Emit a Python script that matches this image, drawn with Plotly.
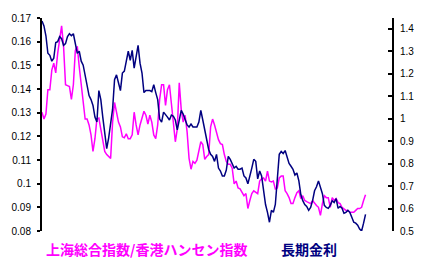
import plotly.graph_objects as go

# 上海総合指数/香港ハンセン指数 (left axis), weekly
ratio = [0.1302, 0.1273, 0.1294, 0.1397, 0.1397, 0.1480, 0.1509, 0.1468, 0.1551, 0.1600,
         0.1667, 0.1580, 0.1418, 0.1414, 0.1410, 0.1356, 0.1418, 0.1563, 0.1580, 0.1493,
         0.1418, 0.1352, 0.1273, 0.1273, 0.1248, 0.1206, 0.1136, 0.1190, 0.1273, 0.1277,
         0.1227, 0.1190, 0.1136, 0.1123, 0.1115, 0.1107, 0.1260, 0.1343, 0.1302, 0.1260,
         0.1240, 0.1198, 0.1194, 0.1211, 0.1190, 0.1190, 0.1206, 0.1302, 0.1248, 0.1206,
         0.1248, 0.1273, 0.1306, 0.1289, 0.1252, 0.1289, 0.1260, 0.1206, 0.1190, 0.1248,
         0.1356, 0.1418, 0.1418, 0.1331, 0.1397, 0.1418, 0.1343, 0.1260, 0.1177, 0.1231,
         0.1426, 0.1314, 0.1260, 0.1289, 0.1219, 0.1107, 0.1061, 0.1094, 0.1086, 0.1099,
         0.1136, 0.1177, 0.1165, 0.1103, 0.1115, 0.1123, 0.1240, 0.1273, 0.1248, 0.1219,
         0.1186, 0.1169, 0.1165, 0.1123, 0.1094, 0.1082, 0.1082, 0.1065, 0.0999, 0.1011,
         0.0982, 0.0978, 0.0962, 0.0949, 0.0958, 0.0895, 0.0929, 0.0958, 0.0970, 0.0962,
         0.0958, 0.1011, 0.1020, 0.1024, 0.1011, 0.1053, 0.1011, 0.1007, 0.1011, 0.0978,
         0.0982, 0.1024, 0.1032, 0.1032, 0.0970, 0.0958, 0.0941, 0.0916, 0.0916, 0.0941,
         0.0962, 0.0970, 0.0937, 0.0949, 0.0929, 0.0924, 0.0920, 0.0916, 0.0929, 0.0916,
         0.0908, 0.0900, 0.0866, 0.0916, 0.0949, 0.0941, 0.0941, 0.0900, 0.0941, 0.0929,
         0.0937, 0.0920, 0.0916, 0.0900, 0.0895, 0.0887, 0.0887, 0.0879, 0.0879, 0.0879,
         0.0887, 0.0895, 0.0895, 0.0900, 0.0929, 0.0953]

# 長期金利 (right axis), weekly
rate = [1.435, 1.413, 1.369, 1.291, 1.282, 1.256, 1.269, 1.339, 1.343, 1.365,
        1.356, 1.326, 1.334, 1.365, 1.378, 1.369, 1.378, 1.334, 1.291, 1.300,
        1.256, 1.238, 1.195, 1.147, 1.103, 1.085, 1.059, 1.007, 0.985, 1.125,
        1.085, 1.007, 0.933, 0.867, 0.915, 0.972, 1.042, 1.173, 1.195, 1.160,
        1.125, 1.203, 1.212, 1.256, 1.300, 1.260, 1.304, 1.225, 1.278, 1.326,
        1.247, 1.203, 1.116, 1.125, 1.125, 1.125, 1.120, 1.151, 1.116, 1.085,
        0.998, 0.985, 1.029, 1.020, 1.007, 0.994, 1.016, 1.011, 0.994, 0.950,
        0.998, 1.037, 1.020, 0.994, 0.972, 0.963, 0.976, 0.963, 0.963, 0.963,
        0.985, 1.037, 0.994, 0.950, 0.906, 0.863, 0.841, 0.832, 0.810, 0.841,
        0.780, 0.767, 0.745, 0.745, 0.771, 0.832, 0.819, 0.801, 0.780, 0.788,
        0.775, 0.775, 0.780, 0.745, 0.736, 0.710, 0.753, 0.780, 0.819, 0.810,
        0.732, 0.767, 0.745, 0.679, 0.618, 0.583, 0.539, 0.592, 0.583, 0.618,
        0.736, 0.841, 0.854, 0.845, 0.858, 0.828, 0.801, 0.788, 0.775, 0.749,
        0.758, 0.723, 0.662, 0.635, 0.618, 0.609, 0.592, 0.605, 0.635, 0.679,
        0.697, 0.723, 0.692, 0.666, 0.614, 0.605, 0.601, 0.614, 0.635, 0.627,
        0.644, 0.601, 0.609, 0.601, 0.579, 0.583, 0.592, 0.583, 0.561, 0.539,
        0.535, 0.526, 0.509, 0.500, 0.535, 0.574]

weeks = list(range(len(ratio)))
left_ticks = [0.08, 0.09, 0.1, 0.11, 0.12, 0.13, 0.14, 0.15, 0.16, 0.17]
left_labels = ["0.08", "0.09", "0.1", "0.11", "0.12", "0.13", "0.14", "0.15", "0.16", "0.17"]
right_ticks = [0.5, 0.6, 0.7, 0.8, 0.9, 1.0, 1.1, 1.2, 1.3, 1.4]
right_labels = ["0.5", "0.6", "0.7", "0.8", "0.9", "1", "1.1", "1.2", "1.3", "1.4"]
names = ["上海総合指数/香港ハンセン指数", "長期金利"]
colors = ["#FF00FF", "#000080"]

fig = go.Figure()
fig.add_trace(go.Scatter(x=weeks, y=ratio, mode="lines", name=names[0],
                         line=dict(color=colors[0], width=1.5), yaxis="y"))
fig.add_trace(go.Scatter(x=weeks, y=rate, mode="lines", name=names[1],
                         line=dict(color=colors[1], width=1.5), yaxis="y2"))

tick_font = dict(family="Liberation Sans, Arial, sans-serif", size=10, color="black")
fig.update_layout(
    width=432, height=269,
    margin=dict(l=35, r=40, t=14, b=38),
    paper_bgcolor="white", plot_bgcolor="white",
    showlegend=False,
    xaxis=dict(range=[0, 178.5], visible=False, showgrid=False, zeroline=False),
    yaxis=dict(range=[0.08, 0.17], tickvals=left_ticks, ticktext=left_labels,
               showgrid=False, zeroline=False, showline=True, linecolor="black",
               linewidth=2, ticks="outside", ticklen=3, tickwidth=1.5, tickcolor="black",
               tickfont=tick_font, ticklabelstandoff=4),
    yaxis2=dict(range=[0.5, 1.448], overlaying="y", side="right",
                tickvals=right_ticks, ticktext=right_labels,
                showgrid=False, zeroline=False, showline=True, linecolor="black",
                linewidth=2, ticks="inside", ticklen=4, tickwidth=1.5, tickcolor="black",
                tickfont=tick_font, ticklabelstandoff=4),
)

legend_font = "Noto Sans CJK JP, sans-serif"
fig.add_annotation(text="<b>" + names[0] + "</b>", xref="paper", yref="paper",
                   x=0.005, y=-0.083, xanchor="left", yanchor="middle", showarrow=False,
                   font=dict(family=legend_font, size=14, color=colors[0]))
fig.add_annotation(text="<b>" + names[1] + "</b>", xref="paper", yref="paper",
                   x=0.677, y=-0.083, xanchor="left", yanchor="middle", showarrow=False,
                   font=dict(family=legend_font, size=14, color=colors[1]))

fig.write_html("out.html")
